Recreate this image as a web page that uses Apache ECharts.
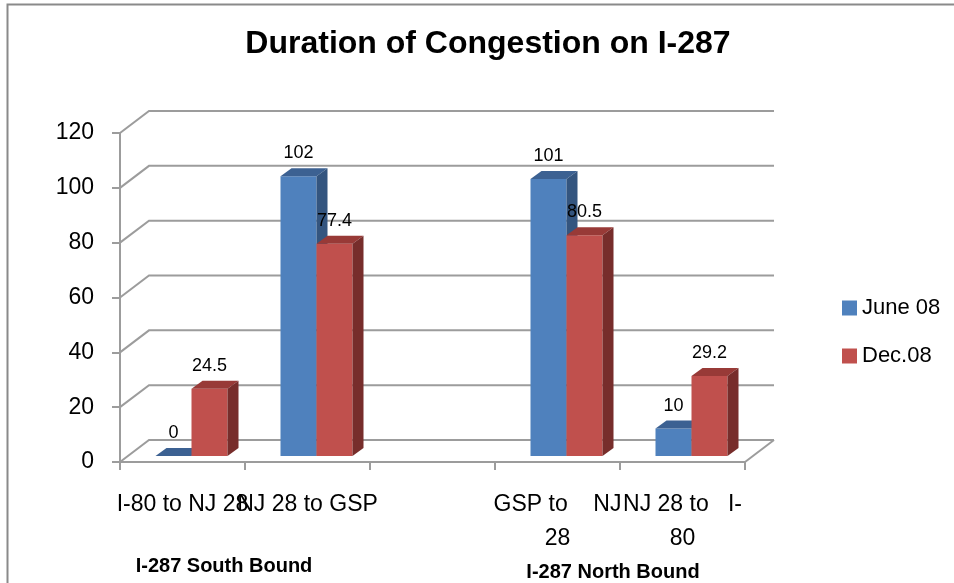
<!DOCTYPE html>
<html>
<head>
<meta charset="utf-8">
<title>Duration of Congestion on I-287</title>
<script src="https://cdn.jsdelivr.net/npm/echarts@6/dist/echarts.min.js"></script>
<style>
  html, body { margin: 0; padding: 0; background: #fff; }
</style>
</head>
<body>
<div id="main" style="width: 954px; height: 583px;"></div>
<script type="text/javascript">
var categories = ['I-80 to NJ 28', 'NJ 28 to GSP', '', 'GSP to NJ 28', 'NJ 28 to I-80'];
// how the tick labels wrap in the picture
var tickLabels = ['I-80 to NJ 28', 'NJ 28 to GSP', '', 'GSP to    NJ\n28', 'NJ 28 to   I-\n80'];
var seriesNames = ['June 08', 'Dec.08'];
var june08 = [0, 102, null, 101, 10];
var dec08 = [24.5, 77.4, null, 80.5, 29.2];
var yTicks = [0, 20, 40, 60, 80, 100, 120];
var groupLabels = ['I-287 South Bound', 'I-287 North Bound'];

var FONT = 'Liberation Sans';
var GRID_COLOR = '#9c9c9c';
// depth of the back wall / of the bars (pixels)
var WALL_DX = 29, WALL_DY = 22;
var BAR_W = 36, BAR_OX = 9, BAR_OY = 6, BAR_DX = 11, BAR_DY = 8;

var colors = {
  front: ['#4F81BD', '#C0504D'],
  top: ['#3C6192', '#983A37'],
  side: ['#34557F', '#772D2B']
};

var myChart = echarts.init(document.getElementById('main'));

function pairs(arr) {
  var res = [];
  for (var i = 0; i < arr.length; i++) {
    if (arr[i] !== null) res.push([i, arr[i]]);
  }
  return res;
}

function wallRender(params, api) {
  var cs = params.coordSys;
  var y = api.coord([0, api.value(1)])[1];
  var x0 = cs.x, x1 = cs.x + cs.width;
  var style = { stroke: GRID_COLOR, lineWidth: 2, fill: null };
  var children = [{
    type: 'polyline',
    shape: { points: [[x0, y], [x0 + WALL_DX, y - WALL_DY], [x1 + WALL_DX, y - WALL_DY]] },
    style: style
  }];
  if (api.value(1) === 0) {
    children.push({
      type: 'line',
      shape: { x1: x1, y1: y, x2: x1 + WALL_DX, y2: y - WALL_DY },
      style: style
    });
  }
  return { type: 'group', children: children };
}

function barRender(k) {
  return function (params, api) {
    var v = api.value(1);
    var top = api.coord([api.value(0), v]);
    var base = api.coord([api.value(0), 0]);
    var x = top[0] + (k === 0 ? -BAR_W : 0) + BAR_OX;
    var yt = top[1] - BAR_OY, yb = base[1] - BAR_OY;
    return {
      type: 'group',
      children: [
        {
          type: 'rect',
          shape: { x: x, y: yt, width: BAR_W, height: yb - yt },
          style: { fill: colors.front[k] }
        },
        {
          type: 'polygon',
          shape: { points: [[x, yt], [x + BAR_DX, yt - BAR_DY], [x + BAR_W + BAR_DX, yt - BAR_DY], [x + BAR_W, yt]] },
          style: { fill: colors.top[k] }
        },
        {
          type: 'polygon',
          shape: { points: [[x + BAR_W, yt], [x + BAR_W + BAR_DX, yt - BAR_DY], [x + BAR_W + BAR_DX, yb - BAR_DY], [x + BAR_W, yb]] },
          style: { fill: colors.side[k] }
        },
        {
          type: 'text',
          x: x + BAR_W / 2,
          y: yt - 23,
          style: {
            text: String(v),
            fontFamily: FONT,
            fontSize: 18,
            fill: '#000',
            align: 'center',
            verticalAlign: 'middle'
          }
        }
      ]
    };
  };
}

var option = {
  backgroundColor: '#fff',
  animation: false,
  textStyle: { fontFamily: FONT },
  grid: { left: 120, top: 133, width: 625, height: 329 },
  legend: {
    orient: 'vertical',
    left: 837,
    top: 290,
    itemWidth: 15,
    itemHeight: 15,
    itemGap: 22,
    icon: 'rect',
    data: seriesNames,
    textStyle: { fontFamily: FONT, fontSize: 22, color: '#000', lineHeight: 26 }
  },
  xAxis: {
    type: 'category',
    data: categories,
    axisLine: { show: true, lineStyle: { color: GRID_COLOR, width: 2 } },
    axisTick: { show: true, length: 8, lineStyle: { color: GRID_COLOR, width: 2 } },
    axisLabel: {
      interval: 0,
      hideOverlap: false,
      margin: 26,
      fontFamily: FONT,
      fontSize: 23,
      lineHeight: 34,
      color: '#000',
      formatter: function (val, idx) { return tickLabels[idx]; }
    },
    splitLine: { show: false }
  },
  yAxis: {
    type: 'value',
    min: 0,
    max: 120,
    interval: 20,
    axisLine: { show: true, lineStyle: { color: GRID_COLOR, width: 2 } },
    axisTick: { show: true, length: 8, lineStyle: { color: GRID_COLOR, width: 2 } },
    axisLabel: { margin: 26, fontFamily: FONT, fontSize: 23, color: '#000' },
    splitLine: { show: false }
  },
  graphic: [
    {
      type: 'polyline',
      shape: { points: [[7.5, 583], [7.5, 4.5], [954, 4.5]] },
      style: { stroke: '#8a8a8a', lineWidth: 2, fill: null },
      z: 0
    },
    {
      type: 'text',
      x: 488,
      y: 44,
      style: {
        text: 'Duration of Congestion on I-287',
        fontFamily: FONT,
        fontWeight: 'bold',
        fontSize: 32,
        fill: '#000',
        align: 'center',
        verticalAlign: 'middle'
      }
    },
    {
      type: 'text',
      x: 224,
      y: 566,
      style: {
        text: groupLabels[0],
        fontFamily: FONT,
        fontWeight: 'bold',
        fontSize: 20,
        fill: '#000',
        align: 'center',
        verticalAlign: 'middle'
      }
    },
    {
      type: 'text',
      x: 613,
      y: 572,
      style: {
        text: groupLabels[1],
        fontFamily: FONT,
        fontWeight: 'bold',
        fontSize: 20,
        fill: '#000',
        align: 'center',
        verticalAlign: 'middle'
      }
    }
  ],
  series: [
    {
      type: 'custom',
      name: 'wall',
      silent: true,
      z: 1,
      renderItem: wallRender,
      data: yTicks.map(function (t) { return [0, t]; })
    },
    {
      type: 'custom',
      name: seriesNames[0],
      z: 3,
      itemStyle: { color: colors.front[0] },
      renderItem: barRender(0),
      data: pairs(june08)
    },
    {
      type: 'custom',
      name: seriesNames[1],
      z: 4,
      itemStyle: { color: colors.front[1] },
      renderItem: barRender(1),
      data: pairs(dec08)
    }
  ]
};

myChart.setOption(option);
</script>
</body>
</html>
